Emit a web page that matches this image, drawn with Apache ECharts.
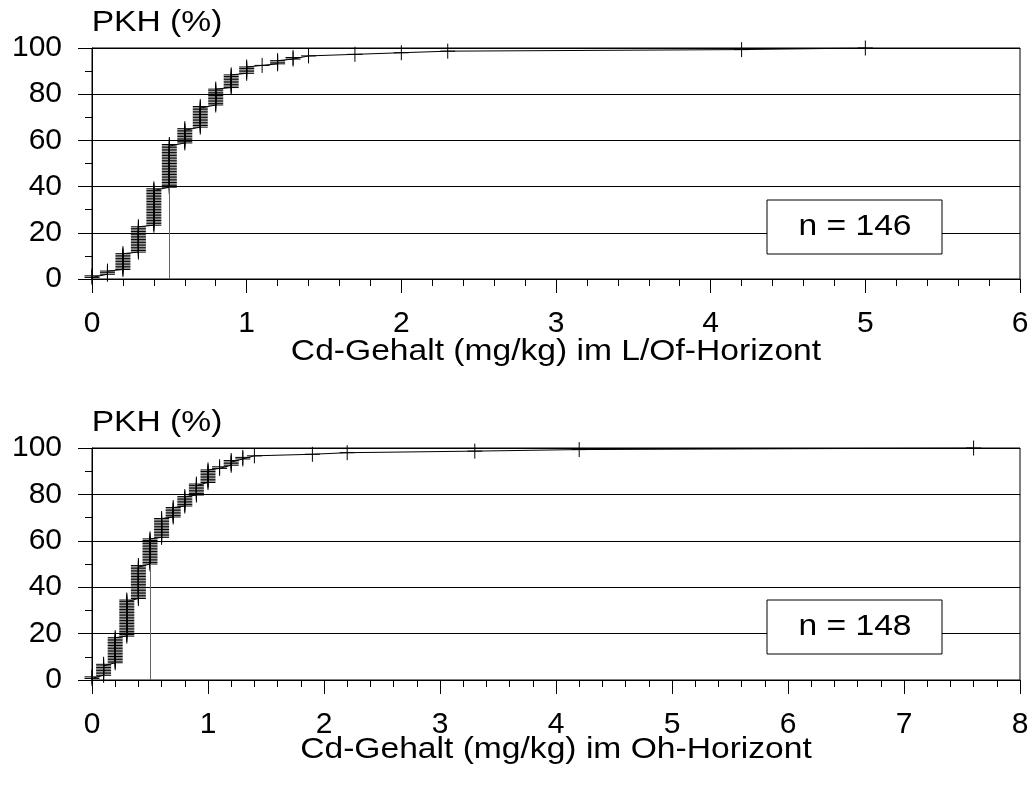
<!DOCTYPE html>
<html>
<head>
<meta charset="utf-8">
<title>Cd-Gehalt PKH</title>
<script src="https://cdn.jsdelivr.net/npm/echarts@6/dist/echarts.min.js"></script>
<style>
  html, body { margin: 0; padding: 0; background: #fff; }
  #chart { width: 1036px; height: 801px; }
</style>
</head>
<body>
<div id="chart"></div>
<script>
// Cd contents (mg/kg) and how many samples share each value
const cdValuesLOf = [0, 0.1, 0.2, 0.3, 0.4, 0.5, 0.6, 0.7, 0.8, 0.9, 1.0, 1.1, 1.2, 1.3, 1.4, 1.7, 2.0, 2.3, 4.2, 5.0];
const countsLOf   = [2, 3, 11, 17, 24, 28, 10, 14, 11, 9, 5, 1, 3, 2, 1, 1, 1, 1, 1, 1];

const cdValuesOh = [0, 0.1, 0.2, 0.3, 0.4, 0.5, 0.6, 0.7, 0.8, 0.9, 1.0, 1.1, 1.2, 1.3, 1.4, 1.9, 2.2, 3.3, 4.2, 7.6];
const countsOh   = [2, 8, 17, 24, 22, 17, 13, 7, 7, 8, 9, 2, 4, 2, 1, 1, 1, 1, 1, 1];

const markValue = 0.5;            // reference value marked by a vertical line
const yTicks = [0, 20, 40, 60, 80, 100];
const titleLOf = 'Cd-Gehalt (mg/kg) im L/Of-Horizont';
const titleOh  = 'Cd-Gehalt (mg/kg) im Oh-Horizont';
const yTitle = 'PKH (%)';

// cumulative frequency (%) for every single sample, in rank order
function cumulative(values, counts) {
  const n = counts.reduce((a, b) => a + b, 0);
  const pts = [];
  let rank = 0;
  values.forEach((v, i) => {
    for (let k = 0; k < counts[i]; k++) {
      rank++;
      pts.push([v, rank / n * 100]);
    }
  });
  return { n, pts };
}

const cumLOf = cumulative(cdValuesLOf, countsLOf);
const cumOh = cumulative(cdValuesOh, countsOh);

function firstAt(pts, v) {
  const p = pts.find(q => Math.abs(q[0] - v) < 1e-9);
  return p ? p[1] : 0;
}

const FONT = 'Liberation Sans, Arial, sans-serif';
const BLACK = '#000';
const plus = 'path://M7.5,0L7.5,15M0,7.5L15,7.5';

function makeXAxis(gridIndex, max) {
  return {
    type: 'value', gridIndex, min: 0, max, interval: 1,
    axisLine: { show: true, lineStyle: { color: BLACK, width: 1 } },
    axisTick: { show: true, length: 14, inside: false, lineStyle: { color: BLACK } },
    minorTick: { show: true, splitNumber: 5, length: 7, lineStyle: { color: BLACK } },
    axisLabel: { fontSize: 30, color: BLACK, fontFamily: FONT, margin: 30 },
    splitLine: { show: false }
  };
}
function makeYAxis(gridIndex) {
  return {
    type: 'value', gridIndex, min: yTicks[0], max: yTicks[yTicks.length - 1], interval: 20,
    axisLine: { show: true, lineStyle: { color: BLACK, width: 1 } },
    axisTick: { show: true, length: 14, inside: false, lineStyle: { color: BLACK } },
    minorTick: { show: true, splitNumber: 2, length: 7, lineStyle: { color: BLACK } },
    axisLabel: { fontSize: 30, color: BLACK, fontFamily: FONT, margin: 30 },
    splitLine: { show: true, lineStyle: { color: BLACK, width: 1 } }
  };
}
function curve(idx, data) {
  return {
    type: 'line', xAxisIndex: idx, yAxisIndex: idx,
    data: data.pts,
    showAllSymbol: true,
    symbol: plus, symbolSize: 15,
    itemStyle: { color: 'rgba(0,0,0,0)', borderColor: BLACK, borderWidth: 1 },
    lineStyle: { color: BLACK, width: 1 },
    emphasis: { disabled: true },
    animation: false,
    markLine: {
      silent: true, symbol: 'none', animation: false,
      label: { show: false },
      lineStyle: { color: '#666', width: 1, type: 'solid' },
      data: [[{ coord: [markValue, 0] }, { coord: [markValue, firstAt(data.pts, markValue)] }]]
    }
  };
}

function label(x, y, str) {
  return {
    type: 'text', x, y, scaleX: 1.12,
    style: { text: str, fontSize: 30, fontFamily: FONT, fill: BLACK, align: 'center', verticalAlign: 'middle' }
  };
}
function nBox(cx, cy, n) {
  return [
    { type: 'rect', shape: { x: cx - 88, y: cy - 27, width: 175, height: 54 },
      style: { fill: '#fff', stroke: BLACK, lineWidth: 1 }, z: 100 },
    { type: 'text', x: cx, y: cy, scaleX: 1.12, z: 101,
      style: { text: 'n = ' + n, fontSize: 30, fontFamily: FONT, fill: BLACK, align: 'center', verticalAlign: 'middle' } }
  ];
}

const chart = echarts.init(document.getElementById('chart'), null, { renderer: 'canvas' });
chart.setOption({
  backgroundColor: '#fff',
  animation: false,
  grid: [
    { left: 92, right: 16, top: 48, height: 231, show: true, borderColor: BLACK, borderWidth: 1, backgroundColor: 'transparent' },
    { left: 92, right: 16, top: 448, height: 232, show: true, borderColor: BLACK, borderWidth: 1, backgroundColor: 'transparent' }
  ],
  xAxis: [makeXAxis(0, 6), makeXAxis(1, 8)],
  yAxis: [makeYAxis(0), makeYAxis(1)],
  series: [curve(0, cumLOf), curve(1, cumOh)],
  graphic: [
    label(157, 23, yTitle),
    label(556, 352, titleLOf),
    ...nBox(855, 227, cumLOf.n),
    label(157, 423, yTitle),
    label(556, 750, titleOh),
    ...nBox(855, 627, cumOh.n)
  ]
});
</script>
</body>
</html>
